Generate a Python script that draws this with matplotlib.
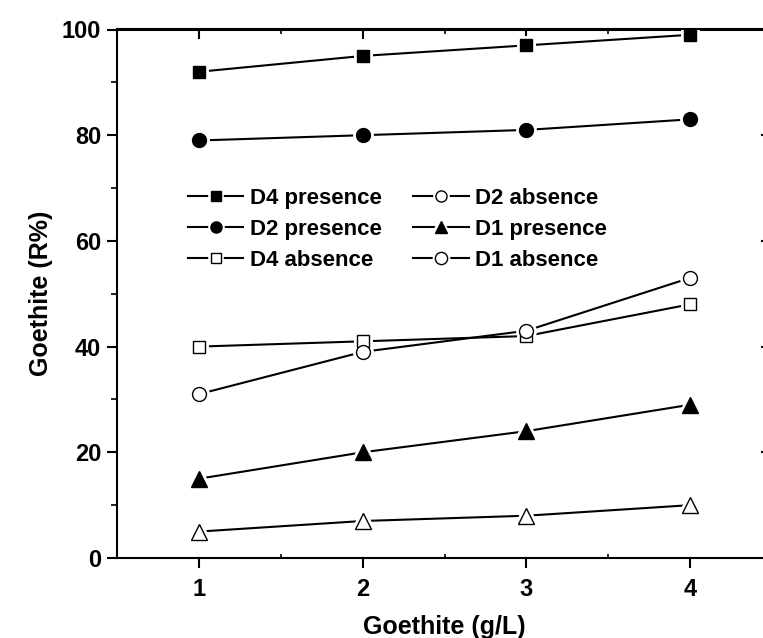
import matplotlib
matplotlib.use("Agg")
import matplotlib.pyplot as plt
from matplotlib.lines import Line2D
from matplotlib.legend_handler import HandlerTuple

plt.rcParams['font.family'] = ['Liberation Sans', 'DejaVu Sans']
plt.rcParams['font.weight'] = 'bold'

# data
goethite = [1, 2, 3, 4]
d4_presence = [92, 95, 97, 99]
d2_presence = [79, 80, 81, 83]
d4_absence = [40, 41, 42, 48]
d2_absence = [31, 39, 43, 53]
d1_presence = [15, 20, 24, 29]
d1_absence = [5, 7, 8, 10]

series = [
    # label, values, plot marker, filled, marker size, legend marker
    ("D4 presence", d4_presence, 's', True, 8.5, 's'),
    ("D2 presence", d2_presence, 'o', True, 10, 'o'),
    ("D4 absence", d4_absence, 's', False, 8.5, 's'),
    ("D2 absence", d2_absence, 'o', False, 10, 'o'),
    ("D1 presence", d1_presence, '^', True, 11, '^'),
    ("D1 absence", d1_absence, '^', False, 11, 'o'),
]

fig = plt.figure(figsize=(7.63, 6.38), dpi=100)
ax = fig.add_axes([117 / 763, 1 - 558 / 638, 655 / 763, 528.5 / 638])

handles = []
labels = []
for label, vals, mk, filled, ms, leg_mk in series:
    fc = 'black' if filled else 'white'
    ax.plot(goethite, vals, color='black', lw=1.5, zorder=2)
    # white halo so the line stops short of each symbol
    ax.plot(goethite, vals, ls='none', marker=mk, ms=ms, mfc='white',
            mec='white', mew=5, zorder=3)
    ax.plot(goethite, vals, ls='none', marker=mk, ms=ms, mfc=fc,
            mec='black', mew=1.0, zorder=4)

    lms = ms * 0.8
    h_line = Line2D([], [], color='black', lw=1.5)
    h_halo = Line2D([], [], ls='none', marker=leg_mk, ms=lms, mfc='white',
                    mec='white', mew=4)
    h_mark = Line2D([], [], ls='none', marker=leg_mk, ms=lms, mfc=fc,
                    mec='black', mew=1.0)
    handles.append((h_line, h_halo, h_mark))
    labels.append(label)

ax.set_xlim(0.5, 4.5)
ax.set_ylim(0, 100)
ax.set_xticks([1, 2, 3, 4])
ax.set_xticks([1.5, 2.5, 3.5, 4.5], minor=True)
ax.set_yticks([0, 20, 40, 60, 80, 100])
ax.set_yticks([10, 30, 50, 70, 90], minor=True)

for s in ax.spines.values():
    s.set_linewidth(1.5)

ax.tick_params(axis='x', which='major', direction='out', length=7.5, width=1.5,
               labelsize=17, pad=7, top=False)
ax.tick_params(axis='x', which='minor', direction='in', length=3, width=1.2, top=False)
ax.tick_params(axis='y', which='major', direction='out', length=7.5, width=1.5,
               labelsize=17, pad=4, right=False)
ax.tick_params(axis='y', which='minor', direction='out', length=4, width=1.2, right=False)

# inward ticks on the top and right edges
sec_x = ax.secondary_xaxis('top')
sec_x.set_xticks([1, 2, 3, 4])
sec_x.set_xticks([1.5, 2.5, 3.5], minor=True)
sec_x.tick_params(which='major', direction='in', length=7.5, width=1.5, labeltop=False)
sec_x.tick_params(which='minor', direction='in', length=3.5, width=1.2)
sec_x.spines['top'].set_linewidth(1.5)
sec_y = ax.secondary_yaxis('right')
sec_y.set_yticks([20, 40, 60, 80])
sec_y.tick_params(which='major', direction='in', length=8, width=1.5, labelright=False)
sec_y.spines['right'].set_linewidth(1.5)

ax.set_xlabel("Goethite (g/L)", fontsize=18, fontweight='bold', labelpad=10)
ax.set_ylabel("Goethite (R%)", fontsize=18, fontweight='bold', labelpad=6)

ax.legend(handles, labels, handler_map={tuple: HandlerTuple(ndivide=1)},
          ncol=2, frameon=False, fontsize=16, loc='upper left',
          bbox_to_anchor=(0.108, 0.70), borderaxespad=0, borderpad=0,
          handlelength=2.5, handletextpad=0.3, columnspacing=1.4,
          labelspacing=0.45)

fig.savefig("out.png", dpi=100)
